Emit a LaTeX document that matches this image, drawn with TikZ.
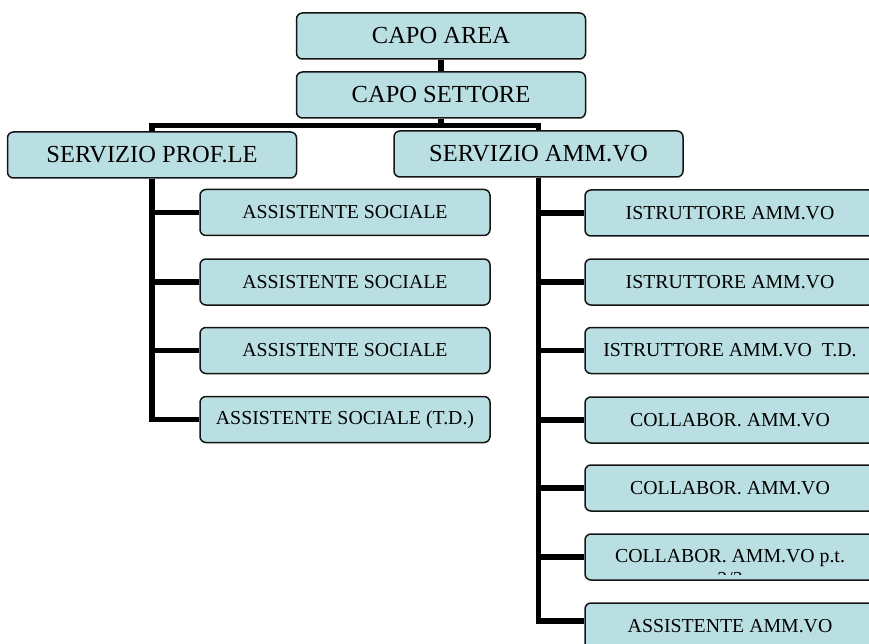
\documentclass[tikz,border=0pt]{standalone}
\usepackage{fontspec}
\setmainfont{Liberation Serif}
\usetikzlibrary{backgrounds}
\definecolor{boxfill}{RGB}{186,223,227}
\definecolor{boxline}{RGB}{20,20,20}
\tikzset{
  bigbox/.style={draw=boxline,line width=1.5pt,fill=boxfill,rounded corners=6pt,
    minimum width=289pt,minimum height=46pt,inner sep=0pt,
    font=\fontsize{24.5}{28}\selectfont,text=black},
  smallbox/.style={draw=boxline,line width=1.5pt,fill=boxfill,rounded corners=6pt,
    minimum width=290pt,minimum height=46pt,inner sep=0pt,
    font=\fontsize{19.8}{23}\selectfont,text=black},
  smalltext/.style={inner sep=0pt,font=\fontsize{19.8}{23}\selectfont,text=black},
  conn/.style={draw=black,line width=5.5pt,line join=miter}
}
\begin{document}
\begin{tikzpicture}[x=1pt,y=-1pt]
\clip (0,0) rectangle (869,644);
% top
\node[bigbox] (a) at (441,36) {CAPO AREA};
\node[bigbox] (s) at (441,95) {CAPO SETTORE};
\node[bigbox] (p) at (152,155) {SERVIZIO PROF.LE};
\node[bigbox] (m) at (538.5,154) {SERVIZIO AMM.VO};
% left column
\node[smallbox] (l1) at (345,212.5) {ASSISTENTE SOCIALE};
\node[smallbox] (l2) at (345,282) {ASSISTENTE SOCIALE};
\node[smallbox] (l3) at (345,350.5) {ASSISTENTE SOCIALE};
\node[smallbox] (l4) at (345,419.5) {ASSISTENTE SOCIALE (T.D.)};
% right column
\node[smallbox] (r1) at (730,213) {ISTRUTTORE AMM.VO};
\node[smallbox] (r2) at (730,282) {ISTRUTTORE AMM.VO};
\node[smallbox] (r3) at (730,350.5) {ISTRUTTORE AMM.VO\ \ T.D.};
\node[smallbox] (r4) at (730,420) {COLLABOR. AMM.VO};
\node[smallbox] (r5) at (730,488) {COLLABOR. AMM.VO};
\node[smallbox] (r6) at (730,557) {};
\begin{scope}
  \clip (586,536) rectangle (869,574);
  \node[smalltext,anchor=base] (r6a) at (730,562) {COLLABOR. AMM.VO p.t.};
  \node[smalltext,anchor=base] (r6b) at (730,585) {2/3};
\end{scope}
\node[smallbox] (r7) at (730,626) {ASSISTENTE AMM.VO};
% connectors
\begin{scope}[on background layer]
  \draw[conn] (a) -- (s);
  \draw[conn] (s.south) -- ++(0,7) coordinate (j);
  \draw[conn] (j) -| (p.north);
  \draw[conn] (j) -| (m.north);
  \foreach \n in {l1,l2,l3,l4} \draw[conn] (p.south) |- (\n.west);
  \foreach \n in {r1,r2,r3,r4,r5,r6} \draw[conn] (m.south) |- (\n.west);
  \draw[conn] (m.south) |- ([yshift=5pt]r7.west);
\end{scope}
\end{tikzpicture}
\end{document}
